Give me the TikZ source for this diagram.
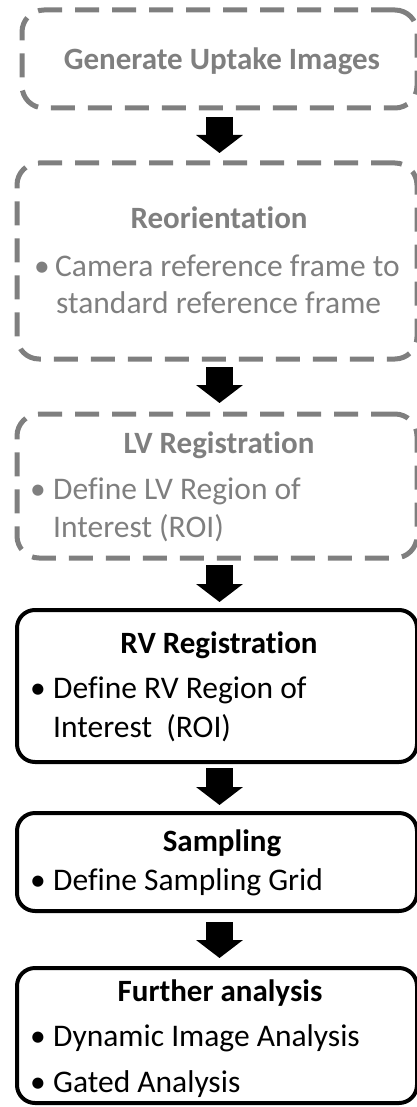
\documentclass[tikz,border=0pt]{standalone}
\usepackage{fontspec}
\setmainfont{Carlito}[Ligatures={NoCommon}]
\usetikzlibrary{arrows.meta}
\definecolor{fadegray}{RGB}{127,127,127}
\begin{document}
\begin{tikzpicture}[x=1pt,y=-1pt,
  dashbox/.style={draw=fadegray, line width=5pt, dash pattern=on 24pt off 13pt, rounded corners=22pt, inner sep=0pt, outer sep=0pt},
  solidbox/.style={draw=black, line width=4pt, rounded corners=18pt, inner sep=0pt, outer sep=0pt},
  bigarrow/.style={draw=black, line width=27pt, -{Triangle[width=46pt,length=18pt]}},
  ttl/.style={anchor=base, inner sep=0pt, font=\fontsize{31}{37}\selectfont\bfseries},
  txt/.style={anchor=base west, inner sep=0pt, font=\fontsize{31.5}{38}\selectfont},
  dot/.style={anchor=base, inner sep=0pt, font=\fontsize{31.5}{38}\selectfont},
  faded/.style={text=fadegray}]
\useasboundingbox (0,0) rectangle (417,1107);
\coordinate (ax) at (219.5,0);
% boxes
\node[dashbox, minimum width=395pt, minimum height=98pt] (b1) at (219.5,59) {};
\node[dashbox, minimum width=400pt, minimum height=196pt] (b2) at (217,261) {};
\node[dashbox, minimum width=400pt, minimum height=144pt] (b3) at (217,486) {};
\node[solidbox, minimum width=400pt, minimum height=152pt] (b4) at (217,686) {};
\node[solidbox, minimum width=400pt, minimum height=98pt] (b5) at (217,862) {};
\node[solidbox, minimum width=400pt, minimum height=135pt] (b6) at (217,1035.5) {};
% texts
\node[ttl, faded] (t1) at (222,70) {Generate Uptake Images};
\node[ttl, faded] (t2) at (219,229) {Reorientation};
\node[dot, faded] (d2a) at (42,276) {•};
\node[txt, faded] (l2a) at (55,276) {Camera reference frame to};
\node[txt, faded] (l2b) at (56,313) {standard reference frame};
\node[ttl, faded] (t3) at (219,453) {LV Registration};
\node[dot, faded] (d3a) at (38,499) {•};
\node[txt, faded] (l3a) at (53,499) {Define LV Region of};
\node[txt, faded] (l3b) at (53,537) {Interest (ROI)};
\node[ttl] (t4) at (219,653) {RV Registration};
\node[dot] (d4a) at (38,698) {•};
\node[txt] (l4a) at (53,698) {Define RV Region of};
\node[txt] (l4b) at (53,737) {Interest\ \ (ROI)};
\node[ttl] (t5) at (222,851) {Sampling};
\node[dot] (d5a) at (38,890) {•};
\node[txt] (l5a) at (53,890) {Define Sampling Grid};
\node[ttl] (t6) at (220,1001) {Further analysis};
\node[dot] (d6a) at (38,1046) {•};
\node[txt] (l6a) at (53,1046) {Dynamic Image Analysis};
\node[dot] (d6b) at (38,1092) {•};
\node[txt] (l6b) at (53,1092) {Gated Analysis};
% arrows
\draw[bigarrow, shorten <=9pt, shorten >=10pt] (b1.south -| ax) -- (b2.north -| ax);
\draw[bigarrow, shorten <=8pt, shorten >=11pt] (b2.south -| ax) -- (b3.north -| ax);
\draw[bigarrow, shorten <=7pt, shorten >=8pt] (b3.south -| ax) -- (b4.north -| ax);
\draw[bigarrow, shorten <=6pt, shorten >=8pt] (b4.south -| ax) -- (b5.north -| ax);
\draw[bigarrow, shorten <=11pt, shorten >=10pt] (b5.south -| ax) -- (b6.north -| ax);
\end{tikzpicture}
\end{document}
